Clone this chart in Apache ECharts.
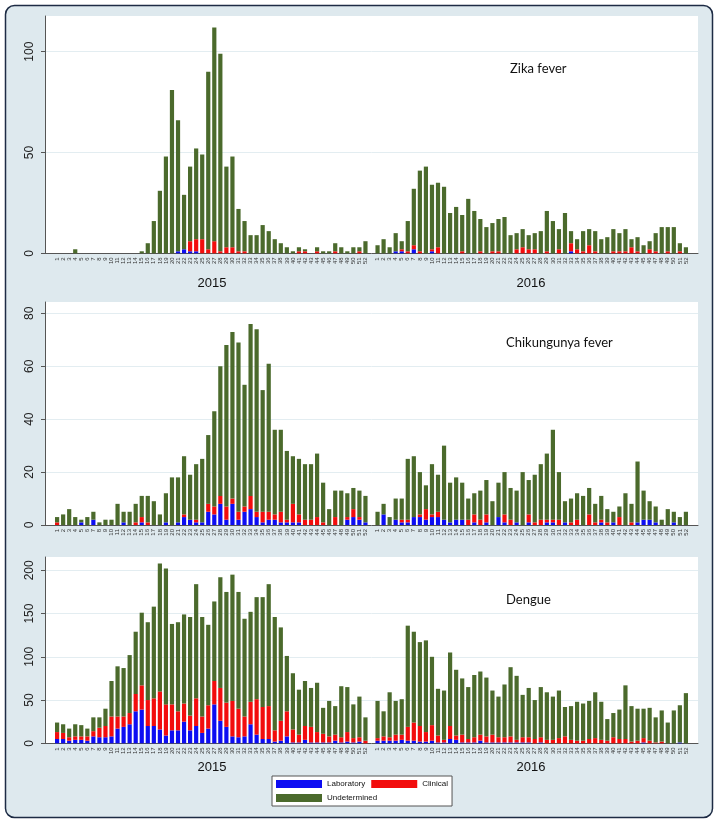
<!DOCTYPE html>
<html><head><meta charset="utf-8">
<script src="https://cdn.jsdelivr.net/npm/echarts@6/dist/echarts.min.js"></script>
<style>html,body{margin:0;padding:0;background:#fff}#c{width:718px;height:825px}</style>
</head><body><div id="c"></div>
<script>
// ---- tick labels ----
const weekLabels = ['1','2','3','4','5','6','7','8','9','10','11','12','13','14','15','16','17','18','19','20','21','22','23','24','25','26','27','28','29','30','31','32','33','34','35','36','37','38','39','40','41','42','43','44','45','46','47','48','49','50','51','52'];
const years = ['2015', '2016'];
const seriesNames = ['Laboratory', 'Clinical', 'Undetermined'];
const diseaseNames = ['Zika fever', 'Chikungunya fever', 'Dengue'];

// ---- Zika fever ----
const zikaLab2015 = [0,0,0,0,0,0,0,0,0,0,0,0,0,0,0,0,0,0,0,0,1,2,1,1,0,0,0,0,0,0,0,0,0,0,0,0,0,0,0,0,0,0,0,0,0,0,0,0,0,0,0,0];
const zikaClin2015 = [0,0,0,0,0,0,0,0,0,0,0,0,0,0,0,0,0,0,0,0,0,0,5,6,7,2,6,1,3,3,1,1,0,0,0,0,0,0,0,0,1,1,0,1,0,0,1,0,0,0,1,0];
const zikaUnd2015 = [0,0,0,2,0,0,0,0,0,0,0,0,0,0,1,5,16,31,48,81,65,27,37,45,42,88,106,98,40,45,21,15,9,9,14,11,7,5,3,1,2,1,0,2,1,1,4,3,1,3,2,6];
const zikaLab2016 = [0,0,0,1,1,0,2,0,0,1,0,0,0,0,0,0,0,0,0,0,0,0,0,0,0,0,0,0,0,0,0,0,1,0,0,0,0,0,0,0,0,0,0,0,0,0,0,0,0,0,0,0];
const zikaClin2016 = [0,0,0,0,1,1,2,1,0,1,3,0,0,0,1,0,0,1,0,1,1,0,0,2,3,2,2,0,1,0,2,0,4,2,1,4,1,0,0,1,1,1,3,1,0,2,1,0,1,0,1,0];
const zikaUnd2016 = [4,7,3,9,4,15,28,40,43,32,32,33,20,23,18,27,21,16,13,14,16,18,9,8,9,7,8,11,20,16,10,20,6,5,10,8,10,7,8,11,9,11,4,7,4,4,9,13,12,13,4,3];

// ---- Chikungunya fever ----
const chikLab2015 = [0,0,0,0,1,0,2,0,0,0,0,1,0,0,1,0,0,0,1,0,1,3,2,1,1,5,4,8,2,8,2,5,6,3,1,2,2,1,1,1,1,0,0,0,0,0,0,0,2,3,2,1];
const chikClin2015 = [1,0,0,0,0,0,0,0,0,0,0,0,0,1,2,1,0,0,0,0,0,1,0,1,0,3,3,3,5,2,3,2,5,2,4,3,2,4,1,7,3,2,2,3,1,0,3,0,1,3,1,0];
const chikUnd2015 = [2,4,6,3,1,3,3,1,2,2,8,4,5,7,8,10,9,4,11,18,17,22,17,21,24,26,36,49,61,63,64,46,65,69,46,56,32,31,26,18,21,21,21,24,15,6,10,13,9,8,10,10];
const chikLab2016 = [0,4,0,2,1,1,3,3,2,3,3,2,1,2,2,0,1,0,1,0,3,1,0,1,0,1,0,0,1,1,0,1,0,0,0,0,0,1,0,1,0,0,0,1,2,2,1,0,0,1,0,0];
const chikClin2016 = [0,0,0,0,1,1,0,1,4,1,2,0,0,0,0,2,3,2,3,0,0,3,2,0,0,3,1,2,1,1,2,0,1,2,0,4,1,1,1,0,3,0,1,0,0,0,0,0,0,0,0,0];
const chikUnd2016 = [5,4,3,8,8,23,23,16,9,19,14,28,15,16,14,8,8,11,13,9,13,16,12,12,20,13,18,21,25,34,18,8,9,10,11,10,7,9,5,4,4,12,7,23,11,7,6,2,6,4,3,5];

// ---- Dengue ----
const dengLab2015 = [5,5,3,4,4,3,8,7,7,8,17,19,22,37,39,20,20,16,9,15,15,25,15,20,12,17,45,26,19,8,7,8,22,10,5,5,2,3,8,1,1,4,1,1,1,1,3,1,2,1,2,0];
const dengClin2015 = [8,7,4,4,4,5,6,11,13,23,14,12,13,20,28,30,32,44,36,30,22,21,17,32,19,27,27,38,28,41,33,23,26,41,37,38,13,23,29,15,9,16,18,12,10,7,7,6,11,5,5,3];
const dengUnd2015 = [11,10,10,14,13,9,16,12,20,41,58,56,67,72,84,90,106,148,157,93,103,103,114,132,115,93,92,128,128,146,135,113,104,118,127,141,131,108,64,65,52,52,45,57,30,41,33,59,52,39,47,27];
const dengLab2016 = [3,3,3,3,4,3,3,2,2,3,1,1,5,4,1,1,1,3,1,1,1,1,1,1,1,1,0,1,0,0,0,0,0,0,0,0,0,0,0,0,0,0,0,0,1,0,0,0,0,0,1,0];
const dengClin2016 = [3,5,4,7,6,16,21,18,11,18,8,3,15,5,9,4,6,7,7,9,6,6,7,3,6,6,5,6,4,4,6,8,4,3,3,5,6,4,3,7,5,5,2,3,5,3,1,2,0,0,0,0];
const dengUnd2016 = [43,29,52,39,41,117,105,97,106,79,54,57,85,76,65,60,72,73,68,51,47,61,80,74,49,57,45,58,55,50,55,34,39,45,43,44,53,44,25,28,34,62,41,37,34,38,29,36,24,38,43,58];

// ---- build ----
const COLORS = ['#0d0df2', '#f20d0d', '#4b6a2c'];
const PAD = ['', ''];
const categories = PAD.concat(weekLabels, [''], weekLabels, PAD);
function joinYears(a, b) {
  return [null, null].concat(a, [null], b, [null, null]);
}
const panels = [
  { name: diseaseNames[0], data: [[zikaLab2015, zikaLab2016], [zikaClin2015, zikaClin2016], [zikaUnd2015, zikaUnd2016]],
    top: 16, height: 237.3, max: 117.7, interval: 50, titleX: 510, titleY: 62, yearY: 277 },
  { name: diseaseNames[1], data: [[chikLab2015, chikLab2016], [chikClin2015, chikClin2016], [chikUnd2015, chikUnd2016]],
    top: 302, height: 223, max: 84.3, interval: 20, titleX: 506, titleY: 336, yearY: null },
  { name: diseaseNames[2], data: [[dengLab2015, dengLab2016], [dengClin2015, dengClin2016], [dengUnd2015, dengUnd2016]],
    top: 557, height: 186.3, max: 215.4, interval: 50, titleX: 506, titleY: 593, yearY: 761 }
];

const grid = [], xAxis = [], yAxis = [], series = [];
const graphic = [{
  type: 'rect', z: -100, silent: true,
  shape: { x: 5.5, y: 5.5, width: 707, height: 812, r: 9 },
  style: { fill: '#dee9ee', stroke: '#1d2b44', lineWidth: 1.5 }
}];

panels.forEach((p, i) => {
  grid.push({ left: 45, right: 20, top: p.top, height: p.height, show: true, backgroundColor: '#ffffff', borderWidth: 0 });
  xAxis.push({
    type: 'category', gridIndex: i, data: categories, boundaryGap: false,
    axisLine: { lineStyle: { color: '#555', width: 1 } },
    axisTick: { show: false },
    axisLabel: { interval: 0, rotate: 90, fontSize: 6, color: '#333', margin: 4, fontFamily: 'Liberation Sans' },
    splitLine: { show: false }
  });
  yAxis.push({
    type: 'value', gridIndex: i, min: 0, max: p.max, interval: p.interval,
    axisLine: { show: true, lineStyle: { color: '#555', width: 1 } },
    axisTick: { show: true, length: 4, lineStyle: { color: '#555' } },
    axisLabel: { rotate: 90, fontSize: 12, color: '#222', margin: 9, showMaxLabel: false, fontFamily: 'Liberation Sans' },
    splitLine: { show: true, showMaxLine: false, lineStyle: { color: '#e3edf1', width: 1 } }
  });
  p.data.forEach((pair, k) => {
    series.push({
      type: 'bar', name: seriesNames[k], stack: 'p' + i, xAxisIndex: i, yAxisIndex: i,
      data: joinYears(pair[0], pair[1]), barWidth: 4.2,
      itemStyle: { color: COLORS[k] }, silent: true, animation: false
    });
  });
  graphic.push({ type: 'text', x: p.titleX, y: p.titleY, z: 100,
    style: { text: p.name, fontSize: 13, fontFamily: 'Lato', fill: '#111' } });
  if (p.yearY !== null) {
    graphic.push({ type: 'text', x: 212, y: p.yearY, z: 100,
      style: { text: years[0], fontSize: 13, fontFamily: 'Liberation Sans', fill: '#111', align: 'center' } });
    graphic.push({ type: 'text', x: 531, y: p.yearY, z: 100,
      style: { text: years[1], fontSize: 13, fontFamily: 'Liberation Sans', fill: '#111', align: 'center' } });
  }
});

const chart = echarts.init(document.getElementById('c'), null, { renderer: 'canvas' });
chart.setOption({
  animation: false,
  backgroundColor: '#ffffff',
  grid, xAxis, yAxis, series, graphic,
  legend: {
    data: seriesNames, left: 272, top: 776, width: 178,
    orient: 'horizontal', itemWidth: 46, itemHeight: 8, itemGap: 6,
    backgroundColor: '#ffffff', borderColor: '#555', borderWidth: 1, borderRadius: 0,
    padding: [4, 4, 4, 4], selectedMode: false,
    textStyle: { fontSize: 8, color: '#111', fontFamily: 'Liberation Sans', padding: [0, 0, 0, 0] },
    icon: 'rect'
  }
});
</script>
</body></html>
